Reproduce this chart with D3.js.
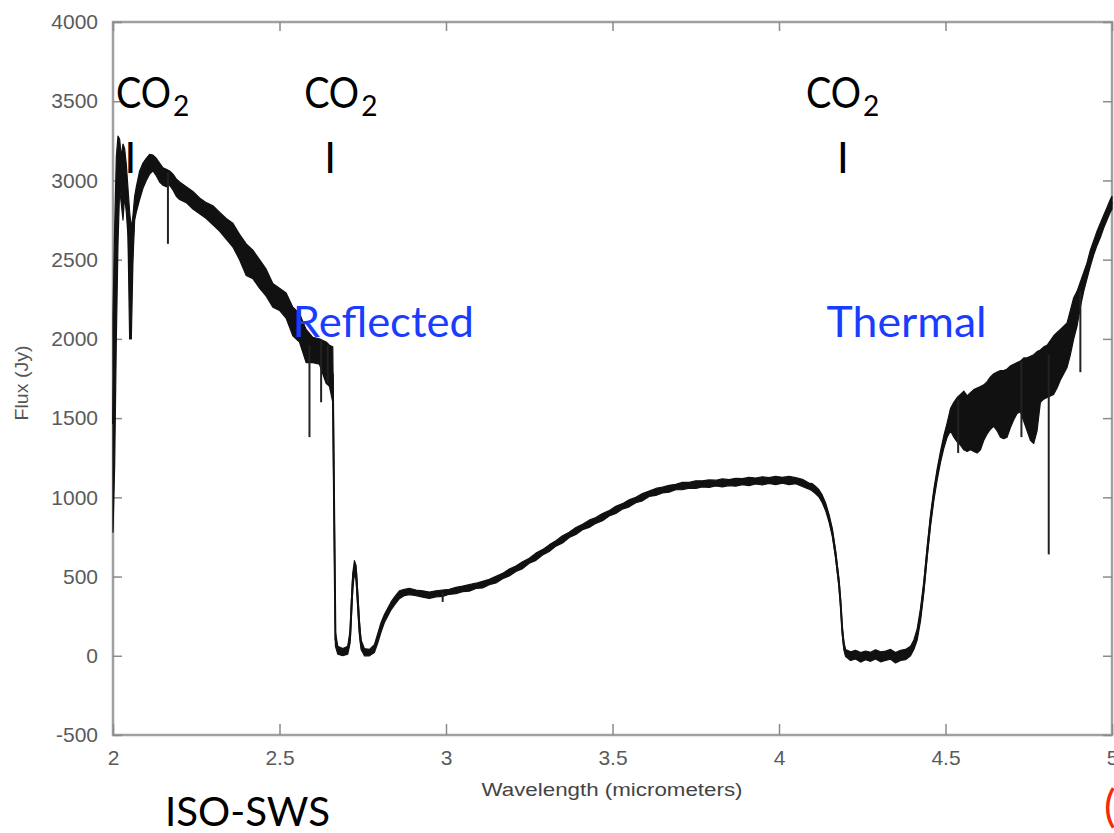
<!DOCTYPE html>
<html>
<head>
<meta charset="utf-8">
<script src="https://cdn.jsdelivr.net/npm/d3@7"></script>
<style>
  html, body { margin: 0; padding: 0; background: #fff; }
  svg { display: block; }
</style>
</head>
<body>
<svg id="chart" width="1114" height="833"></svg>
<script>
// ---------------- data ----------------
const xTicks = [2, 2.5, 3, 3.5, 4, 4.5, 5];
const yTicks = [-500, 0, 500, 1000, 1500, 2000, 2500, 3000, 3500, 4000];

// wavelength (micrometers)
const wavelength = [
  2.000, 2.005, 2.010, 2.015, 2.020, 2.025, 2.030, 2.035, 2.040, 2.045,
  2.050, 2.055, 2.060, 2.065, 2.070, 2.080, 2.090, 2.100, 2.110, 2.120,
  2.130, 2.140, 2.150, 2.160, 2.170, 2.180, 2.190, 2.200, 2.220, 2.240,
  2.260, 2.280, 2.300, 2.320, 2.340, 2.360, 2.380, 2.400, 2.420, 2.440,
  2.460, 2.480, 2.500, 2.520, 2.540, 2.560, 2.580, 2.600, 2.620, 2.640,
  2.650, 2.660, 2.668, 2.675, 2.690, 2.705, 2.712, 2.716, 2.720, 2.725,
  2.730, 2.735, 2.740, 2.745, 2.755, 2.770, 2.785, 2.795, 2.805, 2.815,
  2.825, 2.835, 2.845, 2.860, 2.875, 2.890, 2.910, 2.930, 2.950, 2.970,
  2.990, 3.010, 3.030, 3.050, 3.070, 3.090, 3.110, 3.130, 3.150, 3.170,
  3.190, 3.210, 3.230, 3.250, 3.270, 3.290, 3.310, 3.330, 3.350, 3.370,
  3.390, 3.410, 3.430, 3.450, 3.470, 3.490, 3.510, 3.530, 3.550, 3.570,
  3.590, 3.610, 3.630, 3.650, 3.670, 3.690, 3.710, 3.730, 3.750, 3.770,
  3.790, 3.810, 3.830, 3.850, 3.870, 3.890, 3.910, 3.930, 3.950, 3.970,
  3.990, 4.010, 4.030, 4.050, 4.070, 4.090, 4.100, 4.110, 4.120, 4.130,
  4.140, 4.150, 4.160, 4.170, 4.175, 4.180, 4.185, 4.190, 4.195, 4.200,
  4.215, 4.230, 4.245, 4.260, 4.275, 4.290, 4.305, 4.320, 4.335, 4.350,
  4.365, 4.380, 4.395, 4.405, 4.415, 4.425, 4.435, 4.445, 4.455, 4.465,
  4.475, 4.485, 4.495, 4.505, 4.515, 4.525, 4.535, 4.545, 4.555, 4.565,
  4.575, 4.585, 4.595, 4.605, 4.615, 4.625, 4.635, 4.645, 4.655, 4.665,
  4.675, 4.685, 4.695, 4.705, 4.715, 4.725, 4.735, 4.745, 4.755, 4.765,
  4.775, 4.785, 4.795, 4.805, 4.815, 4.825, 4.835, 4.845, 4.855, 4.865,
  4.875, 4.885, 4.895, 4.905, 4.915, 4.925, 4.935, 4.945, 4.955, 4.965,
  4.975, 4.985, 4.995, 5.000
];
// lower edge of the noisy flux band (Jy)
const fluxLow = [
  780, 1200, 2000, 2600, 2950, 2850, 2750, 2900, 2800, 2650,
  2000, 2000, 2500, 2750, 2800, 2880, 2950, 3000, 3040, 3060,
  3030, 2990, 2970, 2960, 2970, 2940, 2900, 2880, 2860, 2820,
  2790, 2760, 2720, 2680, 2630, 2580, 2500, 2400, 2380, 2320,
  2270, 2200, 2180, 2130, 2020, 1980, 1850, 1850, 1840, 1720,
  1700, 1600, 60, 10, 0, 10, 80, 250, 420, 520,
  480, 300, 130, 40, 0, 0, 20, 80, 150, 210,
  250, 290, 320, 360, 380, 385, 380, 370, 362, 372,
  375, 388, 392, 405, 408, 425, 428, 448, 460, 486,
  504, 532, 550, 584, 602, 636, 658, 692, 712, 746,
  766, 796, 810, 836, 852, 882, 898, 926, 940, 966,
  978, 1006, 1012, 1028, 1032, 1048, 1048, 1058, 1056, 1066,
  1062, 1072, 1066, 1074, 1070, 1080, 1074, 1084, 1078, 1088,
  1080, 1090, 1080, 1086, 1068, 1052, 1040, 1022, 1002, 966,
  916, 846, 756, 616, 526, 436, 306, 136, 36, -5,
  -30, -20, -40, -25, -35, -20, -38, -30, -22, -45,
  -30, -25, 0, 40, 100, 220, 400, 620, 820, 980,
  1110, 1220, 1310, 1380, 1420, 1380, 1350, 1330, 1300, 1290,
  1300, 1290, 1280, 1300, 1360, 1400, 1430, 1450, 1420, 1380,
  1370, 1380, 1440, 1490, 1530, 1540, 1480, 1420, 1360, 1340,
  1420, 1600, 1620, 1630, 1640, 1650, 1690, 1740, 1780, 1820,
  1900, 2000, 2080, 2200, 2300, 2380, 2460, 2530, 2590, 2640,
  2700, 2750, 2800, 2820
];
// upper edge of the noisy flux band (Jy)
const fluxHigh = [
  2150, 2700, 3150, 3280, 3260, 3150, 3230, 3200, 3100, 2950,
  2800, 2700, 2780, 2900, 2960, 3060, 3110, 3140, 3165, 3160,
  3140, 3110, 3080, 3070, 3060, 3040, 3010, 2990, 2960, 2930,
  2890, 2860, 2840, 2800, 2760, 2730, 2660, 2600, 2560, 2500,
  2440, 2350, 2320, 2290, 2200, 2160, 2060, 2010, 2000, 1980,
  1960, 1950, 150, 60, 45, 60, 160, 350, 520, 600,
  570, 400, 220, 100, 45, 40, 70, 140, 210, 260,
  300, 340, 370, 410, 420, 425, 415, 410, 402, 410,
  415, 420, 432, 440, 450, 458, 470, 482, 502, 520,
  548, 566, 594, 616, 648, 670, 700, 726, 758, 780,
  810, 830, 856, 872, 898, 916, 944, 960, 984, 1000,
  1024, 1040, 1056, 1064, 1076, 1082, 1094, 1094, 1104, 1104,
  1110, 1108, 1116, 1112, 1120, 1118, 1126, 1122, 1130, 1124,
  1132, 1126, 1132, 1124, 1114, 1090, 1086, 1068, 1048, 1014,
  964, 894, 804, 664, 574, 484, 354, 184, 84, 40,
  25, 35, 20, 30, 22, 38, 25, 30, 40, 20,
  35, 40, 60, 100, 170, 300, 470, 690, 890, 1050,
  1180, 1290, 1390, 1470, 1560, 1600, 1630, 1650, 1670, 1640,
  1660, 1680, 1690, 1700, 1710, 1730, 1760, 1780, 1790, 1800,
  1800, 1810, 1830, 1840, 1850, 1860, 1880, 1880, 1890, 1900,
  1920, 1930, 1950, 1960, 1990, 2020, 2040, 2060, 2080, 2100,
  2180, 2260, 2300, 2360, 2420, 2480, 2560, 2620, 2680, 2730,
  2780, 2830, 2880, 2900
];
// narrow absorption spikes
const spikeWavelength = [2.165, 2.590, 2.625, 2.645, 2.990, 4.538, 4.728, 4.810, 4.905];
const spikeTop        = [3050, 1960, 1990, 1960, 400, 1620, 1860, 1900, 2300];
const spikeBottom     = [2600, 1380, 1600, 1720, 340, 1280, 1380, 640, 1790];

// annotations
const co2LabelWavelength = [2.009, 2.574, 4.081];
const co2MarkWavelength  = [2.052, 2.652, 4.192];
const regionLabels = ["Reflected", "Thermal"];
const regionLabelWavelength = [2.540, 4.143];
const regionLabelWidth = [181, 160];

// ---------------- layout ----------------
const svg = d3.select("#chart");
const margin = {left: 113, top: 22, right: 2, bottom: 98};
const W = 1114, H = 833;
const x = d3.scaleLinear().domain([2, 5]).range([margin.left, W - margin.right]);
const y = d3.scaleLinear().domain([-500, 4000]).range([H - margin.bottom, margin.top]);

const tickFont = "'Liberation Sans', Arial, Helvetica, sans-serif";
const annFont = "Lato, 'Open Sans', sans-serif";

// frame
svg.append("rect")
  .attr("x", x(2)).attr("y", y(4000))
  .attr("width", x(5) - x(2)).attr("height", y(-500) - y(4000))
  .attr("fill", "none").attr("stroke", "#a0a0a0").attr("stroke-width", 2.5);

function styleAxis(g) {
  g.select(".domain").remove();
  g.selectAll(".tick line").attr("stroke", "#8a8a8a").attr("stroke-width", 1.5);
  g.selectAll(".tick text")
    .attr("fill", "#5a5a5a")
    .style("font-family", tickFont)
    .style("font-size", "21px");
}

svg.append("g")
  .attr("transform", `translate(${x(2)},0)`)
  .call(d3.axisLeft(y).tickValues(yTicks).tickSize(-9).tickPadding(15).tickFormat(d => String(d)))
  .call(styleAxis);

svg.append("g")
  .attr("transform", `translate(${x(5)},0)`)
  .call(d3.axisRight(y).tickValues(yTicks).tickSize(-9).tickFormat(""))
  .call(styleAxis);

svg.append("g")
  .attr("transform", `translate(0,${y(-500)})`)
  .call(d3.axisBottom(x).tickValues(xTicks).tickSize(-11).tickPadding(15).tickFormat(d => String(d)))
  .call(styleAxis);

svg.append("g")
  .attr("transform", `translate(0,${y(4000)})`)
  .call(d3.axisTop(x).tickValues(xTicks).tickSize(-9).tickFormat(""))
  .call(styleAxis);

// axis titles
svg.append("text")
  .attr("transform", `translate(28,383) rotate(-90)`)
  .attr("text-anchor", "middle")
  .attr("fill", "#555")
  .style("font-family", tickFont).style("font-size", "18px")
  .attr("textLength", 75).attr("lengthAdjust", "spacingAndGlyphs")
  .text("Flux (Jy)");

svg.append("text")
  .attr("x", 612).attr("y", 796)
  .attr("text-anchor", "middle")
  .attr("fill", "#444")
  .style("font-family", tickFont).style("font-size", "18px")
  .attr("textLength", 261).attr("lengthAdjust", "spacingAndGlyphs")
  .text("Wavelength (micrometers)");

// ---------------- spectrum ----------------
const spec = wavelength.map((w, i) => ({w, lo: fluxLow[i], hi: fluxHigh[i]}));

svg.append("path")
  .datum(spec)
  .attr("d", d3.area().x(d => x(d.w)).y0(d => y(d.lo)).y1(d => y(d.hi)))
  .attr("fill", "#111")
  .attr("stroke", "#111")
  .attr("stroke-width", 1.2)
  .attr("stroke-linejoin", "round");

svg.append("path")
  .datum(spec)
  .attr("d", d3.line().x(d => x(d.w)).y(d => y((d.lo + d.hi) / 2)))
  .attr("fill", "none")
  .attr("stroke", "#111")
  .attr("stroke-width", 2);

svg.append("g").selectAll("line")
  .data(spikeWavelength.map((w, i) => ({w, t: spikeTop[i], b: spikeBottom[i]})))
  .join("line")
  .attr("x1", d => x(d.w)).attr("x2", d => x(d.w))
  .attr("y1", d => y(d.t)).attr("y2", d => y(d.b))
  .attr("stroke", "#222").attr("stroke-width", 2);

// ---------------- annotations ----------------
const co2 = svg.append("g");
co2LabelWavelength.forEach(w => {
  const t = co2.append("text")
    .attr("x", x(w)).attr("y", y(3455))
    .attr("fill", "#000")
    .style("font-family", annFont).style("font-size", "42px");
  t.append("tspan")
    .attr("textLength", 55).attr("lengthAdjust", "spacingAndGlyphs")
    .text("CO");
  t.append("tspan")
    .attr("dx", 2).attr("dy", 8)
    .style("font-size", "28px")
    .text("2");
});
co2MarkWavelength.forEach(w => {
  co2.append("text")
    .attr("x", x(w)).attr("y", y(3050))
    .attr("text-anchor", "middle")
    .attr("fill", "#000")
    .style("font-family", annFont).style("font-size", "42px")
    .text("I");
});

regionLabels.forEach((t, i) => {
  svg.append("text")
    .attr("x", x(regionLabelWavelength[i])).attr("y", y(2010))
    .attr("fill", "#1a3cff")
    .style("font-family", annFont).style("font-size", "42px")
    .attr("textLength", regionLabelWidth[i]).attr("lengthAdjust", "spacingAndGlyphs")
    .text(t);
});

svg.append("text")
  .attr("x", 165).attr("y", 826)
  .attr("fill", "#000")
  .style("font-family", annFont).style("font-size", "40px")
  .attr("textLength", 165).attr("lengthAdjust", "spacingAndGlyphs")
  .text("ISO-SWS");

svg.append("text")
  .attr("x", 1104).attr("y", 822)
  .attr("fill", "#f52a0a")
  .style("font-family", annFont).style("font-size", "44px")
  .text("(");
</script>
</body>
</html>
